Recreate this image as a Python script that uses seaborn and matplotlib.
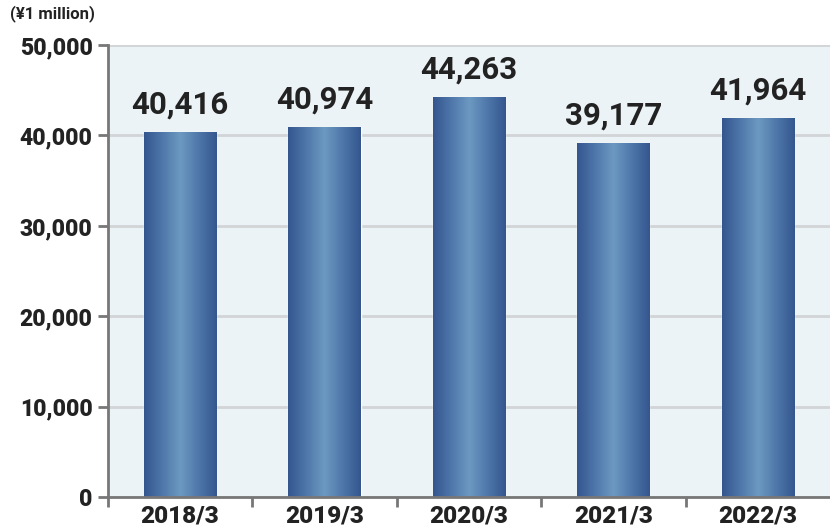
import numpy as np
import pandas as pd
import matplotlib
matplotlib.use("Agg")
import matplotlib.pyplot as plt
import seaborn as sns
from matplotlib.colors import LinearSegmentedColormap
from matplotlib.ticker import FuncFormatter, FixedLocator

categories = ["2018/3", "2019/3", "2020/3", "2021/3", "2022/3"]
values = [40416, 40974, 44263, 39177, 41964]
yticks = [0, 10000, 20000, 30000, 40000, 50000]
unit_label = "(¥1 million)"

sns.set_theme(style="white")
plt.rcParams['font.family'] = ['Roboto', 'DejaVu Sans']

df = pd.DataFrame({"year": categories, "value": values})

fig = plt.figure(figsize=(8.3, 5.3), dpi=100)
ax = fig.add_axes([0.130, 0.062, 0.870, 0.853])
ax.set_facecolor("#ecf3f6")

sns.barplot(data=df, x="year", y="value", ax=ax, width=0.5, color="#3f6399", saturation=1, zorder=3)

ax.set_ylim(0, 50000)
ax.set_xlim(-0.5, len(categories) - 0.5)
ax.set_yticks(yticks)
ax.yaxis.set_major_formatter(FuncFormatter(lambda v, p: f"{int(v):,}"))
ax.grid(axis="y", color="#d2d4d6", linewidth=2, zorder=0)
ax.set_axisbelow(True)
ax.set_xlabel("")
ax.set_ylabel("")

# gradient fill
cmap = LinearSegmentedColormap.from_list("g", ["#33568e", "#4f77aa", "#6c99c1", "#4f77aa", "#33568e"])
grad = np.linspace(0, 1, 256).reshape(1, -1)
for patch in ax.patches:
    x0, y0 = patch.get_x(), patch.get_y()
    w, h = patch.get_width(), patch.get_height()
    im = ax.imshow(grad, extent=[x0, x0 + w, y0, y0 + h], aspect="auto", cmap=cmap,
                   zorder=4, interpolation="bicubic")
    im.set_clip_path(patch)
ax.set_xlim(-0.5, len(categories) - 0.5)
ax.set_ylim(0, 50000)

texts = ax.bar_label(ax.containers[0], labels=[f"{v:,}" for v in values], padding=9,
                     fontsize=22.5, fontweight="bold", color="#222222", zorder=5)

for s in ["top", "right"]:
    ax.spines[s].set_visible(False)
for s in ["left", "bottom"]:
    ax.spines[s].set_color("#777777")
    ax.spines[s].set_linewidth(2)
    ax.spines[s].set_zorder(6)

ax.tick_params(axis="y", length=7, width=2, color="#777777", labelsize=16.5, labelcolor="#222222", pad=4, left=True)
for t in ax.get_yticklabels():
    t.set_fontweight("heavy")
ax.xaxis.set_minor_locator(FixedLocator([i + 0.5 for i in range(len(categories) - 1)] + [-0.5]))
ax.tick_params(axis="x", which="major", length=0, labelsize=17.5, labelcolor="#222222", pad=5)
ax.tick_params(axis="x", which="minor", length=7, width=2, color="#777777", bottom=True)
for t in ax.get_xticklabels():
    t.set_fontweight("heavy")

fig.text(0.012, 0.975, unit_label, fontsize=12, fontweight="bold", color="#222222", va="center", ha="left")

fig.savefig("out.png", dpi=100)
